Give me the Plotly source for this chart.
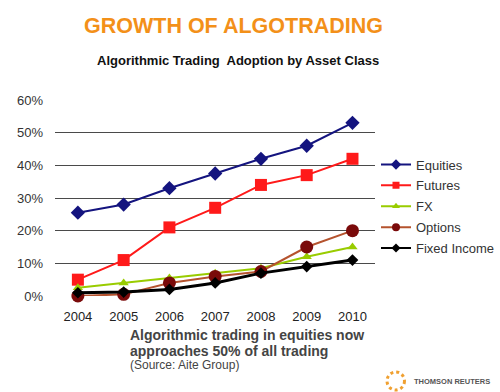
import plotly.graph_objects as go

years = ["2004", "2005", "2006", "2007", "2008", "2009", "2010"]
equities = [25.5, 28, 33, 37.5, 42, 46, 53]
futures = [5, 11, 21, 27, 34, 37, 42]
fx = [2.5, 4, 5.5, 7, 8.5, 12, 15]
options = [0, 0.5, 4, 6, 7.5, 15, 20]
fixed_income = [1, 1.2, 2, 4, 7, 9, 11]
y_ticks = [0, 10, 20, 30, 40, 50, 60]
y_tick_labels = ["0%", "10%", "20%", "30%", "40%", "50%", "60%"]

# name, values, line colour, marker colour, symbol, size, legend marker size
series = [
    ("Equities", equities, "#14147f", "#14147f", "diamond", 11, 8),
    ("Futures", futures, "#ff1a1a", "#ff1a1a", "square", 12, 7),
    ("FX", fx, "#99cc00", "#99cc00", "triangle-up", 9, 7),
    ("Options", options, "#b5532e", "#7a0a0a", "circle", 13, 8),
    ("Fixed Income", fixed_income, "#000000", "#000000", "diamond", 9, 7),
]
line_widths_data = [2, 2, 2, 2, 3]

# layout geometry in page pixels (body margin removed below)
W, H = 500, 392
l = 55
t = 100
plot_bottom = 296
b = H - plot_bottom
r = 0
pw = W - l - r
ph = plot_bottom - t
plot_w = 330


def px(x):
    return (x - l) / pw


def py(y):
    return (plot_bottom - y) / ph


fig = go.Figure()
for (name, vals, lcolor, mcolor, sym, size, lsize), dlw in zip(series, line_widths_data):
    fig.add_trace(go.Scatter(
        x=years, y=vals, name=name, mode="lines+markers", showlegend=False,
        line=dict(color=lcolor, width=dlw),
        marker=dict(color=mcolor, symbol=sym, size=size),
        cliponaxis=False,
    ))
# legend entries with small markers, as in the reference
for name, vals, lcolor, mcolor, sym, size, lsize in series:
    fig.add_trace(go.Scatter(
        x=[None], y=[None], name=name, mode="lines+markers", legendgroup=name,
        line=dict(color=lcolor, width=2),
        marker=dict(color=mcolor, symbol=sym, size=lsize),
    ))

font = "Liberation Sans, Arial, sans-serif"
fig.update_layout(
    width=W, height=H,
    margin=dict(l=l, r=r, t=t, b=b, pad=0),
    paper_bgcolor="white", plot_bgcolor="white",
    font=dict(family=font, size=12, color="#333333"),
    showlegend=True,
    legend=dict(x=px(386), y=py(206.5), xanchor="left", yanchor="middle",
                font=dict(size=13, color="#333333"),
                bgcolor="rgba(0,0,0,0)", tracegroupgap=1, itemwidth=30),
    xaxis=dict(type="category", range=[-0.5, 6.5], domain=[0, plot_w / pw],
               showgrid=False, showline=False, ticks="",
               tickfont=dict(size=13, color="#222222"),
               ticklabelstandoff=11, zeroline=False),
    yaxis=dict(range=[0, 60], tickvals=y_ticks, ticktext=y_tick_labels,
               showgrid=True, gridcolor="#4a4a4a", gridwidth=1,
               zeroline=False, showline=False, ticks="",
               tickfont=dict(size=13, color="#333333"), ticklabelstandoff=11),
    annotations=[
        dict(text="<b>GROWTH OF ALGOTRADING</b>", x=px(238.5), y=py(26),
             xanchor="center", yanchor="middle",
             font=dict(size=21.5, color="#f39019", family=font)),
        dict(text="<b>Algorithmic Trading  Adoption by Asset Class</b>",
             x=px(243.5), y=py(61), xanchor="center", yanchor="middle",
             font=dict(size=13, color="#111111", family=font)),
        dict(text="<b>Algorithmic trading in equities now</b>",
             x=px(130), y=py(335), xanchor="left", yanchor="middle",
             font=dict(size=14, color="#444444", family=font)),
        dict(text="<b>approaches 50% of all trading</b>",
             x=px(130), y=py(351), xanchor="left", yanchor="middle",
             font=dict(size=14, color="#444444", family=font)),
        dict(text="(Source: Aite Group)", x=px(130), y=py(365),
             xanchor="left", yanchor="middle",
             font=dict(size=12, color="#444444", family=font)),
        dict(text="<b>THOMSON REUTERS</b>", x=px(423), y=py(381),
             xanchor="left", yanchor="middle",
             font=dict(size=7.5, color="#555555", family=font)),
    ],
    shapes=[
        dict(type="circle", xref="paper", yref="paper",
             x0=px(397), x1=px(415), y0=py(390), y1=py(372),
             line=dict(color="#f0a030", width=3, dash="dot")),
    ],
)
for a in fig.layout.annotations:
    a.xref = "paper"
    a.yref = "paper"
    a.showarrow = False

fig.write_html(
    "out.html",
    config={"displayModeBar": False},
    post_script="document.body.style.margin='0';document.body.style.overflow='hidden';",
)
